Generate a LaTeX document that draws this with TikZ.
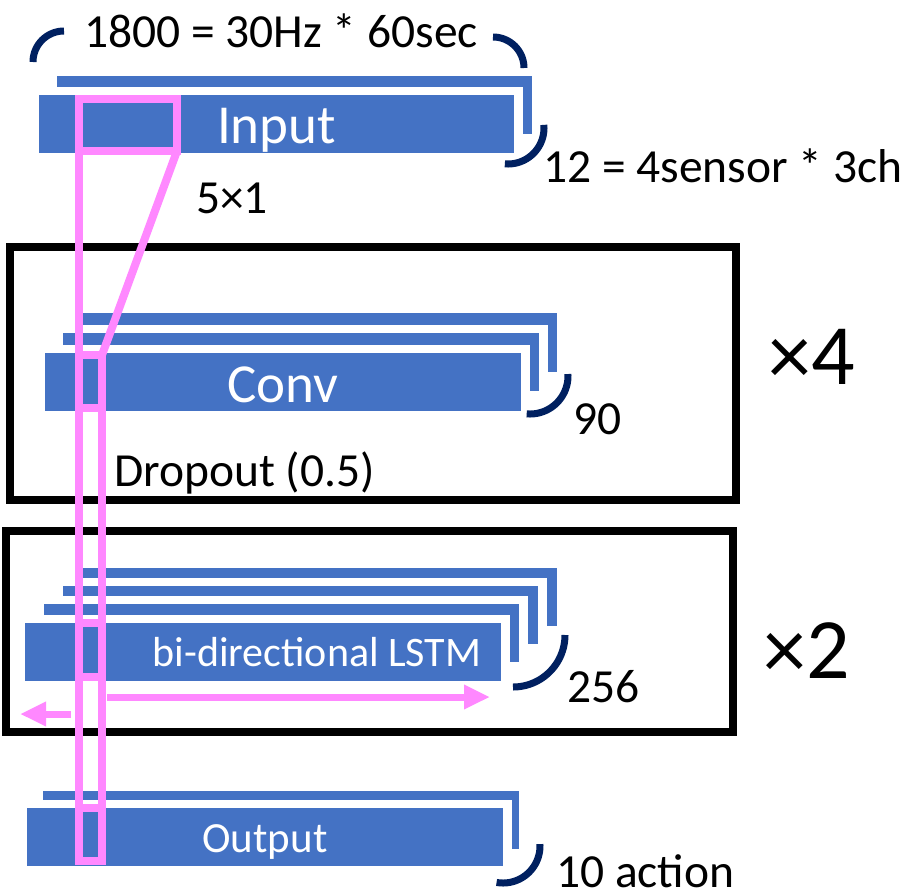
\documentclass[tikz,border=0pt]{standalone}
\usepackage{fontspec}
\setmainfont{Carlito}
\usetikzlibrary{arrows.meta}
\definecolor{blk}{HTML}{4472C4}
\definecolor{navy}{HTML}{002060}
\definecolor{pnk}{HTML}{FF88FF}
\newcommand\lyr[4]{\fill[white] ({#1-8.5},{#2-8.5}) rectangle ({#3+8.5},{#4+8.5}); \fill[blk] (#1,#2) rectangle (#3,#4);}
\newcommand\brc[5]{\draw[brace] plot[domain=#4:#5,samples=40] ({#1+#3*cos(\x)},{#2+#3*sin(\x)});}
\begin{document}
\begin{tikzpicture}[x=1pt,y=-1pt,
  brace/.style={navy,line width=7pt},
  lbl/.style={font=\fontsize{47.5}{57}\selectfont, inner sep=0pt, anchor=base west},
  big/.style={font=\fontsize{86}{100}\selectfont, inner sep=0pt, anchor=base west},
  intext/.style={text=white, inner sep=0pt, anchor=base},
  frame/.style={draw=black, line width=8pt},
  pline/.style={draw=pnk, line width=8pt, line join=miter},
  parrow/.style={draw=pnk, line width=7pt, -{Triangle[length=26pt,width=23pt]}}]
\useasboundingbox (0,0) rectangle (903,895);

% ---- Input
\lyr{57}{76}{532}{134}
\lyr{39}{95}{514}{153}
\node[intext, font=\fontsize{55}{66}\selectfont] (input) at (276.5,143) {Input};
\node[lbl] (len) at (84,47) {1800 = 30Hz * 60sec};
\node[lbl] (ch) at (543,182) {12 = 4sensor * 3ch};
\node[lbl] (k) at (196,213) {5×1};
\brc{64}{62}{31}{180}{270}
\brc{493}{68}{31}{270}{360}
\brc{508}{128}{36}{-5}{95}

% ---- Conv
\draw[frame] (10,246.5) rectangle (736,500);
\lyr{82}{313}{557}{372}
\lyr{63}{333}{539}{391}
\lyr{45}{353}{521}{411}
\node[intext, font=\fontsize{55}{66}\selectfont] (conv) at (283,402) {Conv};
\brc{530}{376}{38}{-3}{95}
\node[lbl] (n90) at (573,434) {90};
\node[lbl] (drop) at (114,486) {Dropout (0.5)};
\node[big] (x4) at (768,384) {×4};

% ---- LSTM
\draw[frame] (5.5,531) rectangle (733,732);
\lyr{82}{568}{557}{626}
\lyr{63}{586}{538}{644}
\lyr{44}{604}{519}{662}
\lyr{25}{623}{501}{681}
\node[intext, font=\fontsize{42}{50}\selectfont] (lstm) at (317,666) {bi-directional LSTM};
\brc{513}{635}{52}{0}{90}
\node[lbl] (n256) at (567,702) {256};
\node[big] (x2) at (763,678) {×2};

% ---- Output
\lyr{43}{791}{519}{849}
\lyr{27}{808}{503}{866}
\node[intext, font=\fontsize{43}{52}\selectfont] (out) at (265,852) {Output};
\brc{503}{846}{37}{-3}{100}
\node[lbl] (act) at (556,887) {10 action};

% ---- pink receptive field
\coordinate (pa) at (79,99);
\coordinate (pb) at (177,151);
\coordinate (ca) at (79,355);
\coordinate (cb) at (102,408);
\coordinate (la) at (79,622.5);
\coordinate (lb) at (102,677);
\coordinate (oa) at (79,807.5);
\coordinate (ob) at (102,861);
\draw[pline] (pa) rectangle (pb);
\draw[pline] (pa) -- (pa |- ob);
\draw[pline] (pb) -- (cb |- ca);
\draw[pline] (ca) rectangle (cb);
\draw[pline] (cb |- ca) -- (ob);
\draw[pline] (la) rectangle (lb);
\draw[pline] (oa) rectangle (ob);
\coordinate (r1) at (107,697);
\coordinate (r2) at (490,697);
\coordinate (l1) at (71,714);
\coordinate (l2) at (20,714);
\draw[parrow] (r1) -- (r2);
\draw[parrow] (l1) -- (l2);
\end{tikzpicture}
\end{document}
